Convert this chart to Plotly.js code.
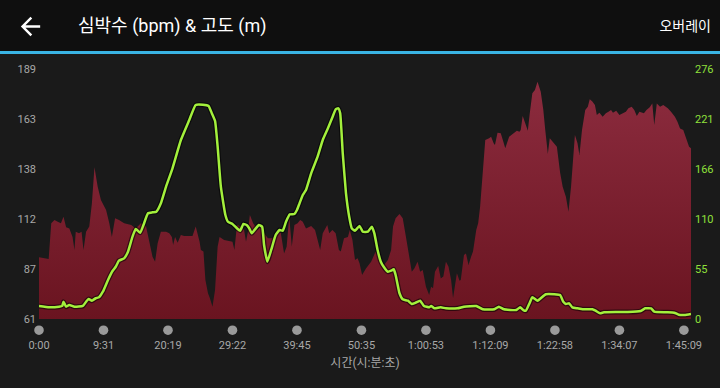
<!DOCTYPE html>
<html>
<head>
<meta charset="utf-8">
<script src="https://cdn.plot.ly/plotly-3.0.1.min.js"></script>
<style>
  html, body { margin: 0; padding: 0; background: #1a1a1a; width: 720px; height: 388px; overflow: hidden; }
  #chart { position: absolute; left: 0; top: 0; width: 720px; height: 388px; }
  #header { position: absolute; left: 0; top: 0; width: 720px; height: 51px; background: #0f0f0f; z-index: 5;
            font-family: Roboto, "Noto Sans CJK KR", sans-serif; color: #ffffff; }
  #hline { position: absolute; left: 0; top: 51px; width: 720px; height: 3px; background: #3ab4e4; z-index: 5; }
  #title { position: absolute; left: 78px; top: 14px; font-size: 18px; line-height: 24px; white-space: nowrap; }
  #overlay { position: absolute; right: 9px; top: 16px; font-size: 14px; line-height: 20px; white-space: nowrap; }
  #back { position: absolute; left: 16px; top: 12px; width: 29px; height: 29px; }
</style>
</head>
<body>
<div id="chart"></div>
<div id="header">
  <svg id="back" viewBox="0 0 24 24"><path fill="#ffffff" d="M20 11H7.83l5.59-5.59L12 4l-8 8 8 8 1.41-1.41L7.83 13H20v-2z"/></svg>
  <div id="title">심박수 (bpm) &amp; 고도 (m)</div>
  <div id="overlay">오버레이</div>
</div>
<div id="hline"></div>
<script>
// x positions are sample positions along the activity (tick k at 10*k)
const hrX = [
  0,1.5,1.9,2.4,2.9,3.4,3.8,4.2,4.7,5.2,
  5.5,5.7,6.2,6.6,6.9,7.3,7.8,8.2,8.6,9.1,
  9.6,10.4,10.9,11.3,11.8,12.4,13.2,14.3,15.0,15.8,
  16.6,17.1,17.6,18.0,18.4,18.9,19.7,20.2,20.6,20.8,
  21.1,21.5,22.0,22.5,23.8,24.3,24.9,25.1,25.5,25.8,
  26.2,26.5,26.9,27.3,27.7,28.0,28.7,30.0,30.3,30.7,
  31.3,31.8,32.1,32.4,32.7,33.2,33.9,34.4,34.9,35.5,
  36.2,37.0,37.5,38.0,38.4,38.8,39.2,39.6,40.1,40.5,
  40.9,41.4,42.2,42.8,43.2,43.6,44.0,44.7,45.0,45.5,
  46.0,46.5,46.8,47.3,47.9,48.2,48.6,49.0,49.4,49.7,
  50.1,50.7,51.5,52.2,52.8,53.3,54.1,54.6,54.9,55.3,
  55.9,56.4,56.9,57.4,57.8,58.2,58.7,59.1,59.5,60.0,
  60.5,60.8,61.1,61.4,61.9,62.3,62.7,63.1,63.5,63.9,
  64.2,64.8,65.2,65.4,65.9,66.2,66.6,67.0,67.3,67.8,
  68.1,68.4,68.8,69.2,69.8,70.1,70.5,70.7,71.1,71.6,
  72.0,72.3,72.9,73.5,74.1,74.5,74.7,75.0,75.5,75.8,
  76.1,76.5,76.9,77.3,77.8,78.2,78.5,78.9,79.2,79.9,
  80.3,80.8,81.2,81.7,82.1,82.5,82.8,83.1,83.5,83.8,
  84.2,84.7,85.1,85.4,85.8,86.2,86.5,86.9,87.4,87.9,
  88.3,88.7,89.0,89.5,90.0,90.5,91.0,91.4,91.9,92.3,
  92.7,93.1,93.5,93.8,94.2,94.7,95.1,95.4,95.8,96.3,
  96.8,97.5,98.0,98.6,99.0,99.4,99.9,100.4,100.8,101.1
];
const heartRate = [
  92.6,91.7,110,111.7,110.8,110,113.4,108,107.4,103,
  96.3,105.7,104.9,105.7,96.3,105.7,108.3,120.2,138.7,128.7,
  121.9,116.8,110,103,112.6,111.7,110,109.1,107.4,110,
  108.3,101.4,92.9,90.3,99.8,105.7,105.7,104.9,103,98.9,
  103,100,104,103.5,103.5,108.3,100.6,96.3,95.5,81,
  74.2,71.6,67.3,75.8,98,103,101.4,100.6,96.3,109.1,
  108.3,106.6,100.6,105.7,114.2,110,106.6,108.3,104.9,102.3,
  102.3,106.6,104.9,94.6,98,113.4,98,109.1,110,111.7,
  110.8,107.4,108.6,106.6,101.4,96.3,104.9,109.1,104.9,106.6,
  104.9,96.3,95.5,102.3,103,106.6,101.4,91.2,92.1,89.5,
  83.5,86.9,90.3,95.5,91.2,87.8,91.2,96.3,108.3,112.6,
  114.8,112.6,103,92.9,85.2,86.9,90.3,85.2,86.1,77.5,
  73.3,77.5,76.7,85.2,88.1,81.8,82.7,90.3,87.8,81,
  71.6,84.4,80.6,81,93.8,94.6,88.6,92.9,95.5,106.6,
  110,118.5,137.3,152.6,153.5,154.3,151,150.1,156.4,156.1,
  151.8,148.4,154.3,156.1,157.4,156.9,157.8,164.9,159.5,157.4,
  166.3,176.6,178.2,182.5,177.4,168,157.8,145.5,153.5,151,
  149.2,136,128.7,123.6,115.9,128.7,144.1,155.2,151,145,
  157.8,168,169.7,173.5,172.3,170.6,165.4,166.6,164.6,166.3,
  167.1,168,166.6,167.6,165.4,166.3,167.1,168.9,169.7,168,
  164.9,167.1,166.6,166.3,168,169.4,171.4,160.3,171.4,169.7,
  170.6,168.9,167.1,164.6,162,158.6,157.8,153.5,149.2,148.4
];
const elevX = [
  0,1.6,3.1,3.6,3.8,4.2,4.7,5.5,6.8,7.3,
  7.7,8.2,8.8,9.3,9.9,10.7,11.4,11.9,12.4,13.2,
  13.8,14.5,15.0,15.7,16.2,16.9,17.6,18.2,18.9,19.7,
  20.7,22.0,23.3,24.3,25.4,26.3,26.8,27.3,27.7,28.2,
  28.9,29.3,30.0,30.7,31.2,31.7,32.2,32.6,33.0,33.5,
  34.1,34.6,34.9,35.4,36.0,36.7,37.3,37.8,38.3,38.9,
  39.6,40.0,40.4,40.9,41.4,42.2,43.2,44.0,44.8,45.5,
  46.0,46.4,46.7,47.1,47.6,48.1,48.5,49.0,49.7,50.2,
  51.0,51.6,52.0,52.5,53.0,53.5,54.1,54.6,55.0,55.3,
  55.9,56.4,57.2,57.8,58.4,59.1,59.7,60.5,60.8,61.3,
  62.3,63.1,64.9,65.9,67.8,68.8,70.6,71.3,72.1,74.0,
  74.6,75.1,75.5,76.1,76.5,77.3,77.8,78.6,79.9,80.8,
  81.3,81.7,82.2,82.7,83.5,84.3,85.8,86.3,87.0,87.6,
  89.5,91.3,93.3,94.0,94.9,95.4,97.2,98.5,99.2,100.1,
  101.1
];
const elevation = [
  14.4,12.9,13.6,14.4,19.1,13.6,15.5,13.6,14.4,19.1,
  22.1,20.2,22.9,24,30.1,43.1,53,57.7,64.4,67,
  74.3,90.9,99.4,95.3,103.8,116.7,117.8,118.5,127.7,146.1,
  166.4,197.6,219.7,236.3,236.6,235.2,227.1,218.6,190.2,146.1,
  114.8,107.4,104.9,100.1,97.5,104.9,103.8,100.1,94.6,99,
  103.8,101.9,81.7,63.3,76.2,92.7,98.3,97.5,107.4,115.6,
  115.9,120.3,127.7,136.9,142.4,160.8,179.2,197.6,210.5,222.7,
  231.5,232.6,227.1,182.9,138.8,112.9,100.1,97.5,102.7,96.4,
  96.4,101.9,94.6,76.2,63.3,57.1,52.2,53.3,54.9,48.6,
  28.4,21.7,20.2,16.6,18,20.2,14.4,12.9,14.4,11.8,
  12.9,11.8,11.8,13.6,14.4,10.7,10.7,13.6,10.7,9.9,
  12.9,9.9,9.2,18,24,20.2,22.9,27.3,27.3,26.5,
  19.1,16.6,17.3,12.9,11.8,10.7,10.7,9.2,6.3,7.4,
  7.7,7.7,8.8,11.8,11.8,8.1,7.4,7,4.7,4.4,
  5.5
];
const xTickVals = [0,10,20,30,40,50,60,70,80,90,100];
const xTickText = ['0:00','9:31','20:19','29:22','39:45','50:35','1:00:53','1:12:09','1:22:58','1:34:07','1:45:09'];
const hrTickVals = [61,86.6,112.2,137.8,163.4,189];
const hrTickText = ['61','87','112','138','163','189'];
const elTickVals = [0,55.2,110.4,165.6,220.8,276];
const elTickText = ['0','55','110','166','221','276'];

const FONT = 'Roboto, "Noto Sans CJK KR", sans-serif';
const X_RANGE = [0, 101.1];

const traces = [
  {
    x: hrX, y: heartRate, type: 'scatter', mode: 'lines',
    line: {width: 0, color: 'rgba(0,0,0,0)'},
    fill: 'tozeroy',
    fillcolor: '#7a1f2d',
    fillgradient: {type: 'vertical', start: 61, stop: 189,
      colorscale: [[0, '#6a1420'], [1, '#8e2d40']]},
    hoverinfo: 'skip', showlegend: false
  },
  {
    x: elevX, y: elevation, yaxis: 'y2', type: 'scatter', mode: 'lines',
    line: {color: 'rgba(0,0,0,0.55)', width: 5, shape: 'spline', smoothing: 0.4},
    hoverinfo: 'skip', showlegend: false
  },
  {
    x: elevX, y: elevation, yaxis: 'y2', type: 'scatter', mode: 'lines',
    line: {color: '#a3f03c', width: 2.5, shape: 'spline', smoothing: 0.4},
    hoverinfo: 'skip', showlegend: false
  }
];

// tick dots below the plot (paper-referenced so they are not clipped at the edges)
const shapes = xTickVals.map(v => ({
  type: 'circle', xref: 'paper', yref: 'paper',
  xsizemode: 'pixel', ysizemode: 'pixel',
  xanchor: (v - X_RANGE[0]) / (X_RANGE[1] - X_RANGE[0]), yanchor: 0,
  x0: -4.8, x1: 4.8, y0: -16, y1: -6.4,
  fillcolor: '#9a9a9a', line: {width: 0}
}));

const layout = {
  width: 720, height: 388,
  margin: {l: 39, r: 29, t: 69, b: 69, pad: 0},
  paper_bgcolor: '#1a1a1a', plot_bgcolor: '#1a1a1a',
  font: {family: FONT, color: '#a8a8a8', size: 11},
  showlegend: false,
  xaxis: {
    range: X_RANGE, tickvals: xTickVals, ticktext: xTickText,
    showgrid: false, zeroline: false, showline: false, ticks: '',
    tickfont: {size: 11, color: '#a8a8a8'}, ticklabelstandoff: 18,
    title: {text: '시간(시:분:초)', font: {size: 12, color: '#a8a8a8'}, standoff: 7},
    fixedrange: true
  },
  yaxis: {
    range: [61, 189], tickvals: hrTickVals, ticktext: hrTickText,
    showgrid: false, zeroline: false, showline: false, ticks: '',
    ticklabelstandoff: 2,
    tickfont: {size: 11, color: '#a8a8a8'}, fixedrange: true
  },
  yaxis2: {
    range: [0, 276], overlaying: 'y', side: 'right',
    tickvals: elTickVals, ticktext: elTickText,
    showgrid: false, zeroline: false, showline: false, ticks: '',
    ticklabelstandoff: 3,
    tickfont: {size: 11, color: '#8fe03a'}, fixedrange: true
  },
  shapes: shapes
};

Plotly.newPlot('chart', traces, layout, {staticPlot: true, displayModeBar: false});
</script>
</body>
</html>
